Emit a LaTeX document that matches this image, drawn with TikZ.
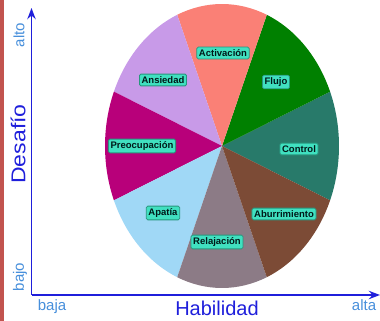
\documentclass[tikz,border=0pt]{standalone}
\usepackage{fontspec}
\setmainfont{Liberation Sans}
\usetikzlibrary{arrows.meta}
\definecolor{azul-eje}{rgb}{.12,.12,.86}
\definecolor{azul-claro}{rgb}{.28,.56,.86}
\definecolor{rojo-borde}{rgb}{.76,.33,.31}
\definecolor{turq}{RGB}{64,224,192}
\definecolor{turq-borde}{RGB}{40,150,125}
\definecolor{c-activ}{RGB}{250,128,118}
\definecolor{c-flujo}{RGB}{0,128,0}
\definecolor{c-control}{RGB}{40,122,106}
\definecolor{c-aburr}{RGB}{124,75,54}
\definecolor{c-relaj}{RGB}{140,123,134}
\definecolor{c-apat}{RGB}{160,216,246}
\definecolor{c-preoc}{RGB}{184,0,122}
\definecolor{c-ansie}{RGB}{200,154,232}

\begin{document}
\begin{tikzpicture}[x=1pt, y=1pt, >=Stealth,
	   etq/.style={draw=turq-borde, line width=0.8pt, fill=turq, rounded corners=1.5pt,
	     inner xsep=2.2pt, inner ysep=2.4pt,
	     text=black!80!teal, font=\fontsize{9.5}{10}\selectfont\bfseries},
	   eje/.style={draw=azul-eje, line width=1.8pt, ->},
	   tit/.style={text=azul-eje, font=\fontsize{20}{22}\selectfont},
	   ext/.style={text=azul-claro, font=\fontsize{15}{16}\selectfont}]
	  \useasboundingbox (0,0) rectangle (380,321);
	  \fill[rojo-borde] (0,0) rectangle (4,321);
	  % pie, 8 equal parts
	  \coordinate (O) at (222,175);
	  \foreach \a/\c in {0/c-control, 45/c-flujo, 90/c-activ, 135/c-ansie,
	      180/c-preoc, 225/c-apat, 270/c-relaj, 315/c-aburr}
	    \fill[\c] (O) -- ++({117*cos(\a-22.5)},{142*sin(\a-22.5)})
	      arc[start angle=\a-22.5, end angle=\a+22.5, x radius=117, y radius=142] -- cycle;
	  \node[etq] (act) at (223,268) {Activación};
	  \node[etq] (flu) at (276,239) {Flujo};
	  \node[etq] (ans) at (163,241) {Ansiedad};
	  \node[etq] (pre) at (142,175) {Preocupación};
	  \node[etq] (con) at (299,172) {Control};
	  \node[etq] (abu) at (284,107) {Aburrimiento};
	  \node[etq] (rel) at (217,79) {Relajación};
	  \node[etq] (apa) at (163,108) {Apatía};
	  % axes
	  \coordinate (orig) at (31.5,26);
	  \coordinate (ytop) at (31.5,313);
	  \coordinate (xend) at (380,26);
	  \draw[eje] (orig) -- (ytop);
	  \draw[eje] (orig) -- (xend);
	  \node[tit, rotate=90, xscale=1.15] (des) at (18,177) {Desafío};
	  \node[tit] (hab) at (217,13) {Habilidad};
	  \node[ext, rotate=90] (alto) at (19,286) {alto};
	  \node[ext, rotate=90] (bajo) at (20,44) {bajo};
	  \node[ext] (baja) at (52,14) {baja};
	  \node[ext] (alta) at (364,16) {alta};
	\end{tikzpicture}
\end{document}
